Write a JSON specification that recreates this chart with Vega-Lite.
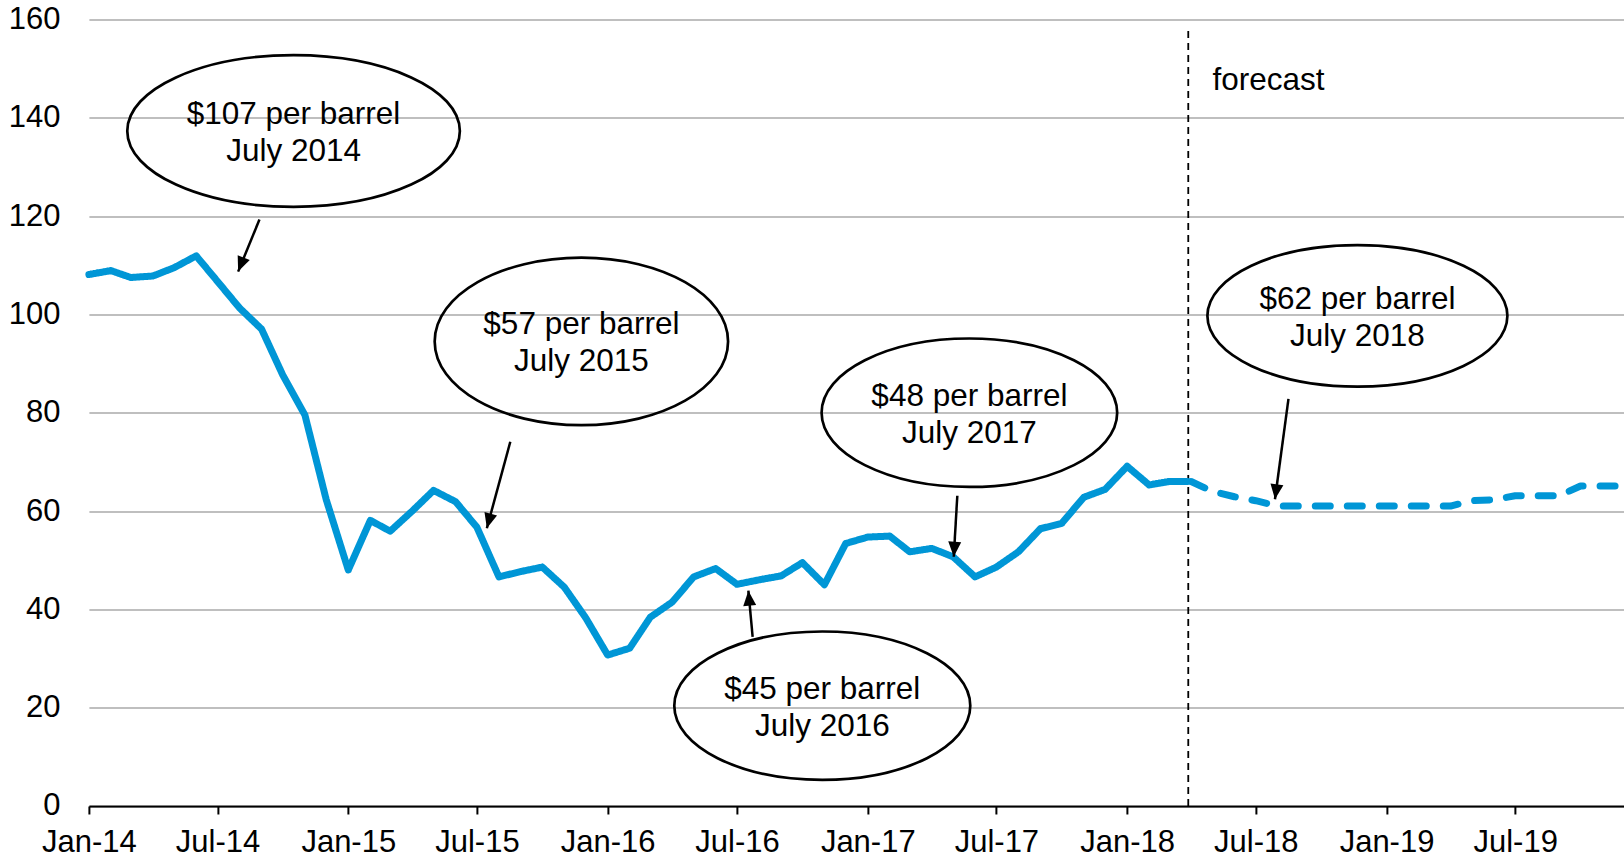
{
  "$schema": "https://vega.github.io/schema/vega-lite/v6.json",
  "width": 1535,
  "height": 786.6,
  "autosize": {"type": "none"},
  "padding": {"left": 88.9, "top": 19.4, "right": 0, "bottom": 52},
  "background": "white",
  "config": {
    "font": "Liberation Sans",
    "view": {"stroke": null},
    "axisX": {"domainColor": "black", "domainWidth": 2, "tickColor": "black", "tickWidth": 2, "tickSize": 8, "labelFontSize": 31, "labelColor": "black", "labelPadding": 14, "grid": false, "title": null, "labelFlush": false, "labelOverlap": false, "zindex": 1},
    "axisY": {"domain": false, "ticks": false, "gridColor": "#bfbfbf", "gridWidth": 2, "labelFontSize": 31, "labelColor": "black", "labelPadding": 29, "title": null, "labelOverlap": false}
  },
  "resolve": {"scale": {"shape": "independent", "strokeDash": "independent"}},
  "datasets": {
    "prices": [
      {"date": "2014-01-01", "price": 108.1, "series": "history"},
      {"date": "2014-02-01", "price": 108.9, "series": "history"},
      {"date": "2014-03-01", "price": 107.5, "series": "history"},
      {"date": "2014-04-01", "price": 107.8, "series": "history"},
      {"date": "2014-05-01", "price": 109.5, "series": "history"},
      {"date": "2014-06-01", "price": 111.9, "series": "history"},
      {"date": "2014-07-01", "price": 106.7, "series": "history"},
      {"date": "2014-08-01", "price": 101.3, "series": "history"},
      {"date": "2014-09-01", "price": 97.0, "series": "history"},
      {"date": "2014-10-01", "price": 87.6, "series": "history"},
      {"date": "2014-11-01", "price": 79.5, "series": "history"},
      {"date": "2014-12-01", "price": 62.3, "series": "history"},
      {"date": "2015-01-01", "price": 48.0, "series": "history"},
      {"date": "2015-02-01", "price": 58.1, "series": "history"},
      {"date": "2015-03-01", "price": 55.9, "series": "history"},
      {"date": "2015-04-01", "price": 60.0, "series": "history"},
      {"date": "2015-05-01", "price": 64.2, "series": "history"},
      {"date": "2015-06-01", "price": 61.9, "series": "history"},
      {"date": "2015-07-01", "price": 56.7, "series": "history"},
      {"date": "2015-08-01", "price": 46.6, "series": "history"},
      {"date": "2015-09-01", "price": 47.7, "series": "history"},
      {"date": "2015-10-01", "price": 48.6, "series": "history"},
      {"date": "2015-11-01", "price": 44.5, "series": "history"},
      {"date": "2015-12-01", "price": 38.3, "series": "history"},
      {"date": "2016-01-01", "price": 30.7, "series": "history"},
      {"date": "2016-02-01", "price": 32.1, "series": "history"},
      {"date": "2016-03-01", "price": 38.4, "series": "history"},
      {"date": "2016-04-01", "price": 41.5, "series": "history"},
      {"date": "2016-05-01", "price": 46.6, "series": "history"},
      {"date": "2016-06-01", "price": 48.3, "series": "history"},
      {"date": "2016-07-01", "price": 45.1, "series": "history"},
      {"date": "2016-08-01", "price": 46.0, "series": "history"},
      {"date": "2016-09-01", "price": 46.8, "series": "history"},
      {"date": "2016-10-01", "price": 49.5, "series": "history"},
      {"date": "2016-11-01", "price": 45.0, "series": "history"},
      {"date": "2016-12-01", "price": 53.4, "series": "history"},
      {"date": "2017-01-01", "price": 54.7, "series": "history"},
      {"date": "2017-02-01", "price": 54.9, "series": "history"},
      {"date": "2017-03-01", "price": 51.7, "series": "history"},
      {"date": "2017-04-01", "price": 52.4, "series": "history"},
      {"date": "2017-05-01", "price": 50.7, "series": "history"},
      {"date": "2017-06-01", "price": 46.6, "series": "history"},
      {"date": "2017-07-01", "price": 48.6, "series": "history"},
      {"date": "2017-08-01", "price": 51.7, "series": "history"},
      {"date": "2017-09-01", "price": 56.4, "series": "history"},
      {"date": "2017-10-01", "price": 57.5, "series": "history"},
      {"date": "2017-11-01", "price": 62.8, "series": "history"},
      {"date": "2017-12-01", "price": 64.4, "series": "history"},
      {"date": "2018-01-01", "price": 69.1, "series": "history"},
      {"date": "2018-02-01", "price": 65.3, "series": "history"},
      {"date": "2018-03-01", "price": 66.0, "series": "history"},
      {"date": "2018-03-27", "price": 66.0, "series": "history"},
      {"date": "2018-04-01", "price": 66.0, "series": "forecast"},
      {"date": "2018-05-01", "price": 64.0, "series": "forecast"},
      {"date": "2018-06-01", "price": 62.9, "series": "forecast"},
      {"date": "2018-07-01", "price": 62.1, "series": "forecast"},
      {"date": "2018-08-01", "price": 61.0, "series": "forecast"},
      {"date": "2018-09-01", "price": 61.0, "series": "forecast"},
      {"date": "2018-10-01", "price": 61.0, "series": "forecast"},
      {"date": "2018-11-01", "price": 61.0, "series": "forecast"},
      {"date": "2018-12-01", "price": 61.0, "series": "forecast"},
      {"date": "2019-01-01", "price": 61.0, "series": "forecast"},
      {"date": "2019-02-01", "price": 61.0, "series": "forecast"},
      {"date": "2019-03-01", "price": 61.0, "series": "forecast"},
      {"date": "2019-04-01", "price": 61.0, "series": "forecast"},
      {"date": "2019-05-01", "price": 62.1, "series": "forecast"},
      {"date": "2019-06-01", "price": 62.3, "series": "forecast"},
      {"date": "2019-07-01", "price": 63.1, "series": "forecast"},
      {"date": "2019-08-01", "price": 63.1, "series": "forecast"},
      {"date": "2019-09-01", "price": 63.1, "series": "forecast"},
      {"date": "2019-10-01", "price": 65.1, "series": "forecast"},
      {"date": "2019-11-01", "price": 65.1, "series": "forecast"},
      {"date": "2019-12-01", "price": 65.1, "series": "forecast"}
    ],
    "callouts": [
      {"id": "c1", "date": "2014-10-16", "value": 137.3, "label": "$107 per barrel\nJuly 2014"},
      {"id": "c2", "date": "2015-11-25", "value": 94.5, "label": "$57 per barrel\nJuly 2015"},
      {"id": "c3", "date": "2017-05-24", "value": 80.0, "label": "$48 per barrel\nJuly 2017"},
      {"id": "c4", "date": "2016-10-29", "value": 20.4, "label": "$45 per barrel\nJuly 2016"},
      {"id": "c5", "date": "2018-11-21", "value": 99.7, "label": "$62 per barrel\nJuly 2018"}
    ],
    "arrows": [
      {"id": "a1", "from_date": "2014-08-29", "from_value": 119.3, "to_date": "2014-07-30", "to_value": 108.7},
      {"id": "a2", "from_date": "2015-08-17", "from_value": 74.1, "to_date": "2015-07-15", "to_value": 56.5},
      {"id": "a3", "from_date": "2016-07-23", "from_value": 34.4, "to_date": "2016-07-17", "to_value": 43.8},
      {"id": "a4", "from_date": "2017-05-07", "from_value": 63.1, "to_date": "2017-05-02", "to_value": 50.7},
      {"id": "a5", "from_date": "2018-08-16", "from_value": 82.8, "to_date": "2018-07-28", "to_value": 62.4}
    ],
    "notes": [
      {"date": "2018-05-01", "value": 145.6, "label": "forecast"}
    ],
    "divider": [
      {"date": "2018-03-28", "low": 0, "high": 158}
    ]
  },
  "layer": [
    {
      "data": {"name": "divider"},
      "mark": {"type": "rule", "color": "black", "strokeWidth": 1.8, "strokeDash": [7, 5]},
      "encoding": {
        "x": {"field": "date", "type": "temporal", "title": null, "scale": {"type": "utc", "domain": [{"year": 2014, "month": 1, "date": 1, "utc": true}, {"year": 2019, "month": 12, "date": 1, "utc": true}], "nice": false},
          "axis": {"format": "%b-%y", "values": [
            {"year": 2014, "month": 1, "date": 1, "utc": true},
            {"year": 2014, "month": 7, "date": 1, "utc": true},
            {"year": 2015, "month": 1, "date": 1, "utc": true},
            {"year": 2015, "month": 7, "date": 1, "utc": true},
            {"year": 2016, "month": 1, "date": 1, "utc": true},
            {"year": 2016, "month": 7, "date": 1, "utc": true},
            {"year": 2017, "month": 1, "date": 1, "utc": true},
            {"year": 2017, "month": 7, "date": 1, "utc": true},
            {"year": 2018, "month": 1, "date": 1, "utc": true},
            {"year": 2018, "month": 7, "date": 1, "utc": true},
            {"year": 2019, "month": 1, "date": 1, "utc": true},
            {"year": 2019, "month": 7, "date": 1, "utc": true}
          ]}},
        "y": {"field": "low", "type": "quantitative", "title": null, "scale": {"domain": [0, 160], "nice": false}, "axis": {"values": [0, 20, 40, 60, 80, 100, 120, 140, 160]}},
        "y2": {"field": "high"}
      }
    },
    {
      "data": {"name": "prices"},
      "mark": {"type": "line", "color": "#0096D6", "strokeCap": "round", "strokeJoin": "round"},
      "encoding": {
        "x": {"field": "date", "type": "temporal", "title": null, "scale": {"type": "utc", "domain": [{"year": 2014, "month": 1, "date": 1, "utc": true}, {"year": 2019, "month": 12, "date": 1, "utc": true}], "nice": false}},
        "y": {"field": "price", "type": "quantitative", "title": null, "scale": {"domain": [0, 160], "nice": false}},
        "strokeWidth": {"value": 7},
        "strokeDash": {"field": "series", "type": "nominal", "scale": {"domain": ["history", "forecast"], "range": [[1, 0], [15, 17]]}, "legend": null}
      }
    },
    {
      "data": {"name": "callouts"},
      "mark": {"type": "point", "filled": false, "stroke": "black", "strokeWidth": 2.7, "size": 4, "opacity": 1},
      "encoding": {
        "x": {"field": "date", "type": "temporal", "title": null, "scale": {"type": "utc", "domain": [{"year": 2014, "month": 1, "date": 1, "utc": true}, {"year": 2019, "month": 12, "date": 1, "utc": true}], "nice": false}},
        "y": {"field": "value", "type": "quantitative", "title": null, "scale": {"domain": [0, 160], "nice": false}},
        "shape": {"field": "id", "type": "nominal", "legend": null, "scale": {"domain": ["c1", "c2", "c3", "c4", "c5"], "range": [
          "M -166.3 0 A 166.3 75.8 0 1 0 166.3 0 A 166.3 75.8 0 1 0 -166.3 0 Z",
          "M -146.7 0 A 146.7 83.8 0 1 0 146.7 0 A 146.7 83.8 0 1 0 -146.7 0 Z",
          "M -147.8 0 A 147.8 74.2 0 1 0 147.8 0 A 147.8 74.2 0 1 0 -147.8 0 Z",
          "M -148 0 A 148 74.2 0 1 0 148 0 A 148 74.2 0 1 0 -148 0 Z",
          "M -150 0 A 150 70.8 0 1 0 150 0 A 150 70.8 0 1 0 -150 0 Z"
        ]}}
      }
    },
    {
      "data": {"name": "callouts"},
      "mark": {"type": "text", "fontSize": 31.5, "lineHeight": 37, "lineBreak": "\n", "align": "center", "baseline": "middle", "dy": -16, "color": "black"},
      "encoding": {
        "x": {"field": "date", "type": "temporal", "title": null, "scale": {"type": "utc", "domain": [{"year": 2014, "month": 1, "date": 1, "utc": true}, {"year": 2019, "month": 12, "date": 1, "utc": true}], "nice": false}},
        "y": {"field": "value", "type": "quantitative", "title": null, "scale": {"domain": [0, 160], "nice": false}},
        "text": {"field": "label", "type": "nominal"}
      }
    },
    {
      "data": {"name": "notes"},
      "mark": {"type": "text", "fontSize": 31.5, "align": "left", "baseline": "alphabetic", "color": "black"},
      "encoding": {
        "x": {"field": "date", "type": "temporal", "title": null, "scale": {"type": "utc", "domain": [{"year": 2014, "month": 1, "date": 1, "utc": true}, {"year": 2019, "month": 12, "date": 1, "utc": true}], "nice": false}},
        "y": {"field": "value", "type": "quantitative", "title": null, "scale": {"domain": [0, 160], "nice": false}},
        "text": {"field": "label", "type": "nominal"}
      }
    },
    {
      "data": {"name": "arrows"},
      "mark": {"type": "rule", "color": "black", "strokeWidth": 2.5},
      "encoding": {
        "x": {"field": "from_date", "type": "temporal", "title": null, "scale": {"type": "utc", "domain": [{"year": 2014, "month": 1, "date": 1, "utc": true}, {"year": 2019, "month": 12, "date": 1, "utc": true}], "nice": false}},
        "y": {"field": "from_value", "type": "quantitative", "title": null, "scale": {"domain": [0, 160], "nice": false}},
        "x2": {"field": "to_date"},
        "y2": {"field": "to_value"}
      }
    },
    {
      "data": {"name": "arrows"},
      "mark": {"type": "point", "filled": true, "color": "black", "size": 4, "opacity": 1, "strokeWidth": 0},
      "encoding": {
        "x": {"field": "to_date", "type": "temporal", "title": null, "scale": {"type": "utc", "domain": [{"year": 2014, "month": 1, "date": 1, "utc": true}, {"year": 2019, "month": 12, "date": 1, "utc": true}], "nice": false}},
        "y": {"field": "to_value", "type": "quantitative", "title": null, "scale": {"domain": [0, 160], "nice": false}},
        "shape": {"field": "id", "type": "nominal", "legend": null, "scale": {"domain": ["a1", "a2", "a3", "a4", "a5"], "range": [
          "M 0 0 L -0.45 -16.34 L 11.61 -11.5 Z",
          "M 0 0 L -2.38 -16.18 L 10.18 -12.8 Z",
          "M 0 0 L 7.77 14.37 L -5.17 15.51 Z",
          "M 0 0 L -5.53 -15.39 L 7.45 -14.55 Z",
          "M 0 0 L -4.46 -15.73 L 8.42 -14.01 Z"
        ]}}
      }
    }
  ]
}
